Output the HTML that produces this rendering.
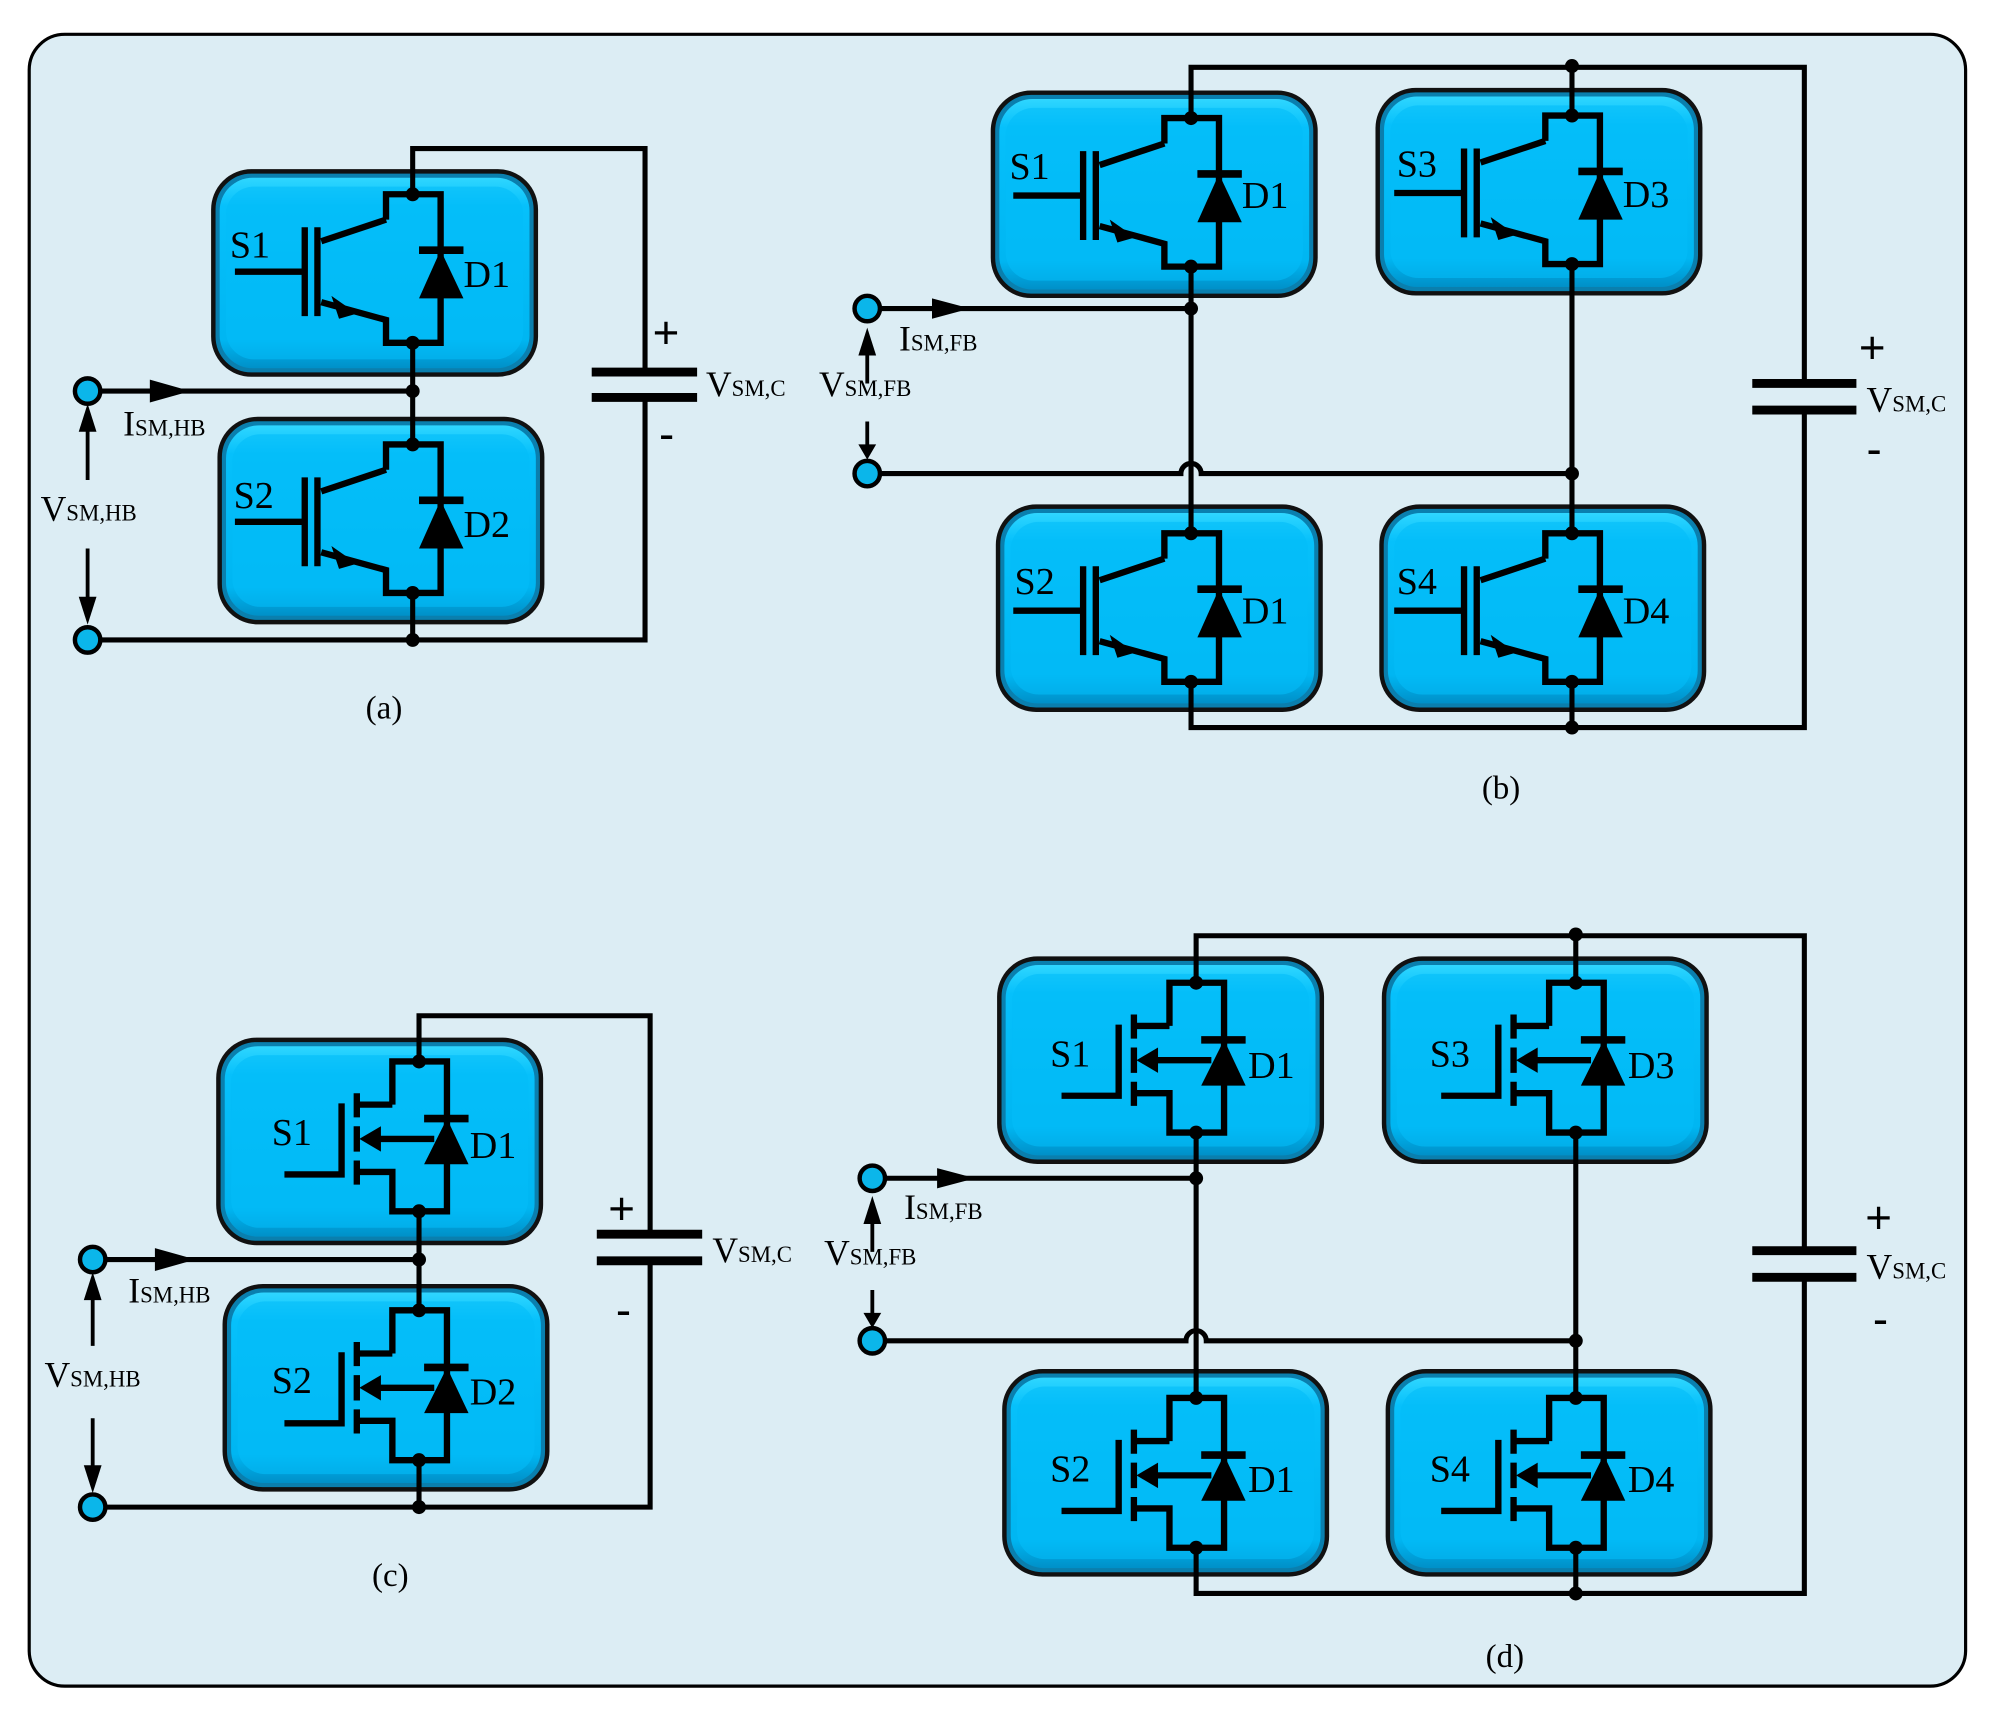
<!DOCTYPE html>
<html><head><meta charset="utf-8"><style>
html,body{margin:0;padding:0;background:#fff;}
svg{display:block;}
text{font-family:"Liberation Serif",serif;fill:#000;}
.pm{font-family:"Liberation Sans",sans-serif;font-size:36px;}
</style></head><body>
<svg width="1991" height="1709" viewBox="0 0 1568 1346" preserveAspectRatio="none" xmlns="http://www.w3.org/2000/svg">
<defs>
<linearGradient id="gb" x1="0" y1="0" x2="0" y2="1">
<stop offset="0" stop-color="#2fd6ff"/><stop offset="0.15" stop-color="#06c0fb"/><stop offset="0.85" stop-color="#00b6f2"/><stop offset="1" stop-color="#0090c8"/></linearGradient>
<g id="box">
<rect x="0" y="0" width="254" height="160" rx="30" fill="#0a7fae" stroke="#111" stroke-width="3.5"/>
<rect x="5" y="5" width="244" height="150" rx="26" fill="url(#gb)"/>
<rect x="10" y="12" width="234" height="136" rx="22" fill="#03bdf8" opacity="0.6"/>
</g>
<g id="igbt">
<g fill="none" stroke="#000" stroke-width="5" stroke-linejoin="miter">
<path d="M-21,20 V0 H22 V117 H-21 V99 L-72,85"/>
<path d="M-21,20 L-72,37"/>
<path d="M-85,26 V96 M-75,26 V96"/>
<path d="M-140,61 H-85"/>
<path d="M5,44 H40" stroke-width="6"/>
</g>
<polygon points="-44,94 -64,80 -58,98" fill="#000"/>
<polygon points="22,44 5,82 40,82" fill="#000"/>
<circle cx="0" cy="0" r="5.5" fill="#000"/><circle cx="0" cy="117" r="5.5" fill="#000"/>
</g>
<g id="mos">
<g fill="none" stroke="#000" stroke-width="5">
<path d="M-21,34 V0 H22 V118 H-21 V87 H-49"/>
<path d="M-21,34 H-49"/>
<path d="M-49,25 V44 M-49,51 V71 M-49,78 V97"/>
<path d="M-106,89 H-61 V33"/>
<path d="M12,61 H-35"/>
<path d="M4,45 H39" stroke-width="6"/>
</g>
<polygon points="-47,61 -30,51 -30,71" fill="#000"/>
<polygon points="22,45 4,81 39,81" fill="#000"/>
<circle cx="0" cy="0" r="5.5" fill="#000"/><circle cx="0" cy="118" r="5.5" fill="#000"/>
</g>
</defs>

<rect x="23" y="27" width="1525" height="1301" rx="28" fill="#dcedf4" stroke="#000" stroke-width="2.5"/>

<!-- boxes -->
<use href="#box" x="168" y="135"/>
<use href="#box" x="173" y="330"/>
<use href="#box" x="782" y="73"/>
<use href="#box" x="1085" y="71"/>
<use href="#box" x="786" y="399"/>
<use href="#box" x="1088" y="399"/>
<use href="#box" x="172" y="819"/>
<use href="#box" x="177" y="1013"/>
<use href="#box" x="787" y="755"/>
<use href="#box" x="1090" y="755"/>
<use href="#box" x="791" y="1080"/>
<use href="#box" x="1093" y="1080"/>

<!-- ===== (a) ===== -->
<g fill="none" stroke="#000" stroke-width="4">
<path d="M325,153 V117 H508 V293 M508,313 V504 H69"/>
<path d="M69,308 H325"/>
<path d="M325,270 V350 M325,467 V504"/>
<path d="M466,293 H549 M466,313 H549" stroke-width="7"/>
<path d="M69,378 V338 M69,432 V472" stroke-width="3"/>
</g>
<use href="#igbt" x="325" y="153"/>
<use href="#igbt" x="325" y="350"/>
<circle cx="325" cy="308" r="5.5"/><circle cx="325" cy="504" r="5.5"/>
<polygon points="118,299 150,308 118,317"/>
<polygon points="69,318 62,340 76,340"/><polygon points="62,470 76,470 69,492"/>
<circle cx="69" cy="308" r="10" fill="#0bb6ea" stroke="#000" stroke-width="3.5"/>
<circle cx="69" cy="504" r="10" fill="#0bb6ea" stroke="#000" stroke-width="3.5"/>
<text x="181" y="203" font-size="30">S1</text><text x="365" y="226" font-size="30">D1</text>
<text x="184" y="400" font-size="30">S2</text><text x="365" y="423" font-size="30">D2</text>
<text x="514" y="274" class="pm">+</text><text x="519" y="354" class="pm">-</text>
<text x="556" y="312" font-size="28">V<tspan font-size="18">SM,C</tspan></text>
<text x="97" y="343" font-size="28">I<tspan font-size="18">SM,HB</tspan></text>
<text x="32" y="410" font-size="28">V<tspan font-size="18">SM,HB</tspan></text>
<text x="288" y="566" font-size="26">(a)</text>

<!-- ===== (b) ===== -->
<g fill="none" stroke="#000" stroke-width="4">
<path d="M938,93 V53 H1421 V302 M1421,323 V573 H938 V537"/>
<path d="M1238,91 V53"/>
<path d="M1238,537 V573"/>
<path d="M938,210 V420"/>
<path d="M1238,210 V420"/>
<path d="M683,243 H938"/>
<path d="M683,373 H930 A8,8 0 0 1 946,373 H1238"/>
<path d="M1380,302 H1462 M1380,323 H1462" stroke-width="7"/>
<path d="M683,302 V278 M683,332 V352" stroke-width="3"/>
</g>
<use href="#igbt" x="938" y="93"/>
<use href="#igbt" x="1238" y="91"/>
<use href="#igbt" x="938" y="420"/>
<use href="#igbt" x="1238" y="420"/>
<circle cx="1238" cy="52" r="5.5"/><circle cx="1238" cy="573" r="5.5"/>
<circle cx="938" cy="243" r="5.5"/><circle cx="1238" cy="373" r="5.5"/>
<polygon points="734,235 764,243 734,251"/>
<polygon points="683,258 676,280 690,280"/><polygon points="676,350 690,350 683,362"/>
<circle cx="683" cy="243" r="10" fill="#0bb6ea" stroke="#000" stroke-width="3.5"/>
<circle cx="683" cy="373" r="10" fill="#0bb6ea" stroke="#000" stroke-width="3.5"/>
<text x="795" y="141" font-size="30">S1</text><text x="978" y="164" font-size="30">D1</text>
<text x="1100" y="139" font-size="30">S3</text><text x="1278" y="163" font-size="30">D3</text>
<text x="799" y="468" font-size="30">S2</text><text x="978" y="491" font-size="30">D1</text>
<text x="1100" y="468" font-size="30">S4</text><text x="1278" y="491" font-size="30">D4</text>
<text x="1464" y="286" class="pm">+</text><text x="1470" y="366" class="pm">-</text>
<text x="1470" y="324" font-size="28">V<tspan font-size="18">SM,C</tspan></text>
<text x="708" y="276" font-size="28">I<tspan font-size="18">SM,FB</tspan></text>
<text x="645" y="312" font-size="28">V<tspan font-size="18">SM,FB</tspan></text>
<text x="1167" y="629" font-size="26">(b)</text>

<!-- ===== (c) ===== -->
<g fill="none" stroke="#000" stroke-width="4">
<path d="M330,836 V800 H512 V972 M512,993 V1187 H73"/>
<path d="M73,992 H330"/>
<path d="M330,954 V1032 M330,1150 V1187"/>
<path d="M470,972 H553 M470,993 H553" stroke-width="7"/>
<path d="M73,1060 V1022 M73,1117 V1156" stroke-width="3"/>
</g>
<use href="#mos" x="330" y="836"/>
<use href="#mos" x="330" y="1032"/>
<circle cx="330" cy="992" r="5.5"/><circle cx="330" cy="1187" r="5.5"/>
<polygon points="122,983 154,992 122,1001"/>
<polygon points="73,1002 66,1024 80,1024"/><polygon points="66,1154 80,1154 73,1176"/>
<circle cx="73" cy="992" r="10" fill="#0bb6ea" stroke="#000" stroke-width="3.5"/>
<circle cx="73" cy="1187" r="10" fill="#0bb6ea" stroke="#000" stroke-width="3.5"/>
<text x="214" y="902" font-size="30">S1</text><text x="370" y="912" font-size="30">D1</text>
<text x="214" y="1097" font-size="30">S2</text><text x="370" y="1106" font-size="30">D2</text>
<text x="479" y="964" class="pm">+</text><text x="485" y="1044" class="pm">-</text>
<text x="561" y="994" font-size="28">V<tspan font-size="18">SM,C</tspan></text>
<text x="101" y="1026" font-size="28">I<tspan font-size="18">SM,HB</tspan></text>
<text x="35" y="1092" font-size="28">V<tspan font-size="18">SM,HB</tspan></text>
<text x="293" y="1249" font-size="26">(c)</text>

<!-- ===== (d) ===== -->
<g fill="none" stroke="#000" stroke-width="4">
<path d="M942,774 V737 H1421 V985 M1421,1006 V1255 H942 V1219"/>
<path d="M1241,774 V737"/>
<path d="M1241,1219 V1255"/>
<path d="M942,892 V1101"/>
<path d="M1241,892 V1101"/>
<path d="M687,928 H942"/>
<path d="M687,1056 H934 A8,8 0 0 1 950,1056 H1241"/>
<path d="M1380,985 H1462 M1380,1006 H1462" stroke-width="7"/>
<path d="M687,986 V962 M687,1016 V1036" stroke-width="3"/>
</g>
<use href="#mos" x="942" y="774"/>
<use href="#mos" x="1241" y="774"/>
<use href="#mos" x="942" y="1101"/>
<use href="#mos" x="1241" y="1101"/>
<circle cx="1241" cy="736" r="5.5"/><circle cx="1241" cy="1255" r="5.5"/>
<circle cx="942" cy="928" r="5.5"/><circle cx="1241" cy="1056" r="5.5"/>
<polygon points="738,920 768,928 738,936"/>
<polygon points="687,942 680,964 694,964"/><polygon points="680,1034 694,1034 687,1046"/>
<circle cx="687" cy="928" r="10" fill="#0bb6ea" stroke="#000" stroke-width="3.5"/>
<circle cx="687" cy="1056" r="10" fill="#0bb6ea" stroke="#000" stroke-width="3.5"/>
<text x="827" y="840" font-size="30">S1</text><text x="983" y="849" font-size="30">D1</text>
<text x="1126" y="840" font-size="30">S3</text><text x="1282" y="849" font-size="30">D3</text>
<text x="827" y="1167" font-size="30">S2</text><text x="983" y="1175" font-size="30">D1</text>
<text x="1126" y="1167" font-size="30">S4</text><text x="1282" y="1175" font-size="30">D4</text>
<text x="1469" y="971" class="pm">+</text><text x="1475" y="1051" class="pm">-</text>
<text x="1470" y="1007" font-size="28">V<tspan font-size="18">SM,C</tspan></text>
<text x="712" y="960" font-size="28">I<tspan font-size="18">SM,FB</tspan></text>
<text x="649" y="996" font-size="28">V<tspan font-size="18">SM,FB</tspan></text>
<text x="1170" y="1313" font-size="26">(d)</text>
</svg>
</body></html>
